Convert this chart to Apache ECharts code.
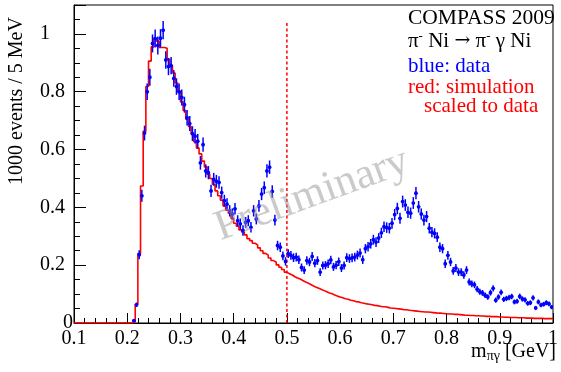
<!DOCTYPE html>
<html>
<head>
<meta charset="utf-8">
<script src="https://cdn.jsdelivr.net/npm/echarts@6/dist/echarts.min.js"></script>
<style>
  html, body { margin: 0; padding: 0; background: #fff; }
  #chart { width: 561px; height: 372px; }
</style>
</head>
<body>
<div id="chart"></div>
<script>
// Histogram binning: 5 MeV bins from 0.1 to 1.0 GeV
const BIN_START = 0.1;
const BIN_WIDTH = 0.005;

// Simulated spectrum (scaled to data), one value per bin, in 1000 events / 5 MeV
const simulation = [
  0, 0, 0, 0, 0, 0, 0, 0, 0, 0,
  0, 0, 0, 0, 0, 0, 0, 0, 0, 0,
  0, 0, 0.004, 0.065, 0.24, 0.474, 0.663, 0.818, 0.906, 0.955,
  0.985, 0.975, 0.953, 0.953, 0.95, 0.912, 0.89, 0.865, 0.83, 0.80,
  0.765, 0.735, 0.705, 0.68, 0.655, 0.627, 0.605, 0.585, 0.56, 0.54,
  0.515, 0.50, 0.48, 0.457, 0.44, 0.425, 0.405, 0.39, 0.38, 0.362,
  0.345, 0.335, 0.322, 0.315, 0.305, 0.292, 0.285, 0.276, 0.27, 0.26,
  0.25, 0.241, 0.235, 0.225, 0.216, 0.21, 0.201, 0.193, 0.185, 0.176,
  0.17, 0.166, 0.16, 0.156, 0.152, 0.147, 0.142, 0.138, 0.133, 0.128,
  0.124, 0.12, 0.116, 0.112, 0.108, 0.104, 0.101, 0.097, 0.093, 0.09,
  0.087, 0.084, 0.082, 0.079, 0.077, 0.074, 0.073, 0.070, 0.068, 0.066,
  0.065, 0.063, 0.061, 0.060, 0.058, 0.056, 0.056, 0.054, 0.052, 0.051,
  0.050, 0.049, 0.048, 0.046, 0.046, 0.044, 0.043, 0.042, 0.041, 0.040,
  0.039, 0.038, 0.038, 0.037, 0.036, 0.035, 0.034, 0.034, 0.033, 0.032,
  0.031, 0.031, 0.030, 0.030, 0.029, 0.028, 0.027, 0.027, 0.026, 0.026,
  0.025, 0.025, 0.024, 0.024, 0.023, 0.023, 0.022, 0.022, 0.022, 0.021,
  0.021, 0.020, 0.020, 0.019, 0.019, 0.019, 0.018, 0.018, 0.018, 0.017,
  0.017, 0.017, 0.016, 0.016, 0.016, 0.016, 0.015, 0.015, 0.015, 0.015
];

// Measured spectrum, same binning (null where the bin is empty)
const measured = [
  null, null, null, null, null, null, null, null, null, null,
  null, null, null, null, null, null, null, null, null, null,
  null, null, 0.008, 0.063, 0.236, 0.44, 0.657, 0.80, 0.85, 0.967,
  0.984, 0.96, 0.985, 1.013, 0.91, 0.887, 0.89, 0.846, 0.818, 0.80,
  0.78, 0.755, 0.71, 0.69, 0.655, 0.646, 0.629, 0.554, 0.617, 0.526,
  0.52, 0.457, 0.497, 0.49, 0.486, 0.451, 0.423, 0.411, 0.388, 0.377,
  0.395, 0.354, 0.343, 0.32, 0.348, 0.354, 0.331, 0.388, 0.36, 0.405,
  0.446, 0.468, 0.526, 0.539, 0.455, 0.356, 0.268, 0.262, 0.232, 0.213,
  0.24, 0.234, 0.226, 0.228, 0.219, 0.192, 0.183, 0.216, 0.211, 0.23,
  0.207, 0.216, 0.176, 0.199, 0.2, 0.205, 0.218, 0.194, 0.2, 0.212,
  0.19, 0.199, 0.226, 0.223, 0.225, 0.228, 0.235, 0.242, 0.219, 0.257,
  0.264, 0.274, 0.288, 0.28, 0.294, 0.312, 0.333, 0.33, 0.328, 0.345,
  0.375, 0.396, 0.362, 0.42, 0.408, 0.383, 0.38, 0.415, 0.449, 0.402,
  0.377, 0.356, 0.368, 0.328, 0.314, 0.31, 0.297, 0.262, 0.257, 0.205,
  0.234, 0.211, 0.18, 0.19, 0.176, 0.176, 0.166, 0.183, 0.142, 0.135,
  0.132, 0.117, 0.108, 0.104, 0.096, 0.09, 0.105, 0.12, 0.079, 0.09,
  0.106, 0.082, 0.085, 0.088, 0.092, 0.073, 0.075, 0.092, 0.083, 0.08,
  0.068, 0.07, 0.087, 0.052, 0.073, 0.062, 0.065, 0.07, 0.066, 0.055
];

// Mass cut marker
const cutMass = 0.5;
const cutTop = 1.04;

const xTickLabels = ['0.1', '0.2', '0.3', '0.4', '0.5', '0.6', '0.7', '0.8', '0.9', '1'];
const yTickLabels = ['0', '0.2', '0.4', '0.6', '0.8', '1'];

const FONT = '"Liberation Serif", "Times New Roman", serif';

// Step outline of the simulated histogram: both edges of every bin
const simLine = [];
simulation.forEach((v, i) => {
  const lo = BIN_START + i * BIN_WIDTH;
  simLine.push([lo, v], [lo + BIN_WIDTH, v]);
});

// Data points at bin centres with Poisson errors (counts = value x 1000)
const dataPoints = [];
measured.forEach((v, i) => {
  if (v === null) return;
  const x = BIN_START + (i + 0.5) * BIN_WIDTH;
  dataPoints.push([x, v, Math.sqrt(v / 1000)]);
});

function xLabel(v) {
  const k = Math.round((v - 0.1) / 0.1);
  return Math.abs(v - (0.1 + 0.1 * k)) < 1e-6 ? (xTickLabels[k] || '') : '';
}
function yLabel(v) {
  const k = Math.round(v / 0.2);
  if (Math.abs(v - 0.2 * k) > 1e-6) return '';
  const t = yTickLabels[k];
  if (t === undefined) return '';
  if (t === '0') return '{z|0}';
  if (t === '1') return '{o|1}';
  return t;
}

const chart = echarts.init(document.getElementById('chart'), null, { renderer: 'canvas' });

const axisCommon = {
  type: 'value',
  splitLine: { show: false },
  axisLine: { show: true, onZero: false, lineStyle: { color: '#000', width: 1 } },
};

chart.setOption({
  animation: false,
  backgroundColor: '#fff',
  grid: {
    left: 74, right: 5, top: 5, bottom: 49,
    show: true, borderColor: '#000', borderWidth: 1, backgroundColor: '#fff'
  },
  xAxis: [
    Object.assign({}, axisCommon, {
      min: 0.1, max: 1.0, interval: 0.1, position: 'bottom',
      axisTick: { inside: true, length: 10, lineStyle: { color: '#000', width: 1 } },
      axisLabel: { color: '#000', fontFamily: FONT, fontSize: 20, margin: 6, formatter: xLabel,
                   showMinLabel: true, showMaxLabel: true }
    }),
    Object.assign({}, axisCommon, {
      min: 0.1, max: 1.0, interval: 0.02, position: 'bottom',
      axisLine: { show: false },
      axisTick: { inside: true, length: 5, lineStyle: { color: '#000', width: 1 } },
      axisLabel: { show: false }
    })
  ],
  yAxis: [
    Object.assign({}, axisCommon, {
      min: 0, max: 1.1, interval: 0.2, position: 'left',
      axisTick: { inside: true, length: 12, lineStyle: { color: '#000', width: 1 } },
      axisLabel: {
        color: '#000', fontFamily: FONT, fontSize: 20, margin: 34, align: 'left',
        formatter: yLabel,
        rich: {
          z: { fontFamily: FONT, fontSize: 20, color: '#000', padding: [0, 0, 0, 23] },
          o: { fontFamily: FONT, fontSize: 20, color: '#000', padding: [0, 0, 0, 0] }
        }
      }
    }),
    Object.assign({}, axisCommon, {
      min: 0, max: 1.1, interval: 0.05, position: 'left',
      axisLine: { show: false },
      axisTick: { inside: true, length: 6, lineStyle: { color: '#000', width: 1 } },
      axisLabel: { show: false }
    })
  ],
  series: [
    {
      name: 'simulation',
      type: 'line',
      xAxisIndex: 0, yAxisIndex: 0,
      data: simLine,
      showSymbol: false, symbol: 'none',
      lineStyle: { color: '#ff0000', width: 1.6 },
      clip: true, z: 2
    },
    {
      name: 'cut',
      type: 'line',
      xAxisIndex: 0, yAxisIndex: 0,
      data: [[cutMass, 0], [cutMass, cutTop]],
      showSymbol: false, symbol: 'none',
      lineStyle: { color: '#ff0000', width: 1.5, type: [3, 2.5] },
      z: 3
    },
    {
      name: 'data',
      type: 'custom',
      xAxisIndex: 0, yAxisIndex: 0,
      data: dataPoints,
      encode: { x: 0, y: 1 },
      clip: true, z: 4,
      renderItem: function (params, api) {
        const x = api.value(0), y = api.value(1), e = api.value(2);
        const c = api.coord([x, y]);
        const hi = api.coord([x, y + e]);
        const lo = api.coord([x, y - e]);
        const l = api.coord([x - BIN_WIDTH / 2, y]);
        const r = api.coord([x + BIN_WIDTH / 2, y]);
        return {
          type: 'group',
          children: [
            { type: 'line', shape: { x1: c[0], y1: hi[1], x2: c[0], y2: lo[1] },
              style: { stroke: '#0000ff', lineWidth: 1.5 } },
            { type: 'line', shape: { x1: l[0], y1: c[1], x2: r[0], y2: c[1] },
              style: { stroke: '#0000ff', lineWidth: 1.5 } },
            { type: 'circle', shape: { cx: c[0], cy: c[1], r: 1.9 },
              style: { fill: '#0000ff' } }
          ]
        };
      }
    }
  ],
  graphic: [
    {
      type: 'text', x: 312, y: 195, rotation: 20 * Math.PI / 180, z: 100, silent: true,
      style: { text: 'Preliminary', fontFamily: FONT, fontSize: 43,
               fill: 'rgba(150,150,150,0.5)', align: 'center', verticalAlign: 'middle' }
    },
    {
      type: 'text', x: 17, y: 101, rotation: Math.PI / 2, z: 100,
      style: { text: '1000 events / 5 MeV', fontFamily: FONT, fontSize: 20,
               fill: '#000', align: 'center', verticalAlign: 'middle' }
    },
    {
      type: 'text', x: 556, y: 352, z: 100,
      style: {
        text: '{a|m}{s|πγ}{a| [GeV]}', align: 'right', verticalAlign: 'middle',
        rich: {
          a: { fontFamily: FONT, fontSize: 20, fill: '#000', lineHeight: 22 },
          s: { fontFamily: FONT, fontSize: 14, fill: '#000', lineHeight: 20, verticalAlign: 'bottom' }
        }
      }
    },
    {
      type: 'text', x: 408, y: 18, z: 100,
      style: { text: 'COMPASS 2009', fontFamily: FONT, fontSize: 21.5, fill: '#000',
               align: 'left', verticalAlign: 'middle' }
    },
    {
      type: 'text', x: 408, y: 41, z: 100,
      style: {
        text: '{a|π}{s|-}{a| Ni }{r|→}{a| π}{s|-}{a| γ Ni}', align: 'left', verticalAlign: 'middle',
        rich: {
          a: { fontFamily: FONT, fontSize: 21, fill: '#000', lineHeight: 22 },
          r: { fontFamily: '"DejaVu Serif", serif', fontSize: 19, fill: '#000', lineHeight: 22 },
          s: { fontFamily: FONT, fontSize: 13, fill: '#000', lineHeight: 14, verticalAlign: 'top' }
        }
      }
    },
    {
      type: 'text', x: 408, y: 66, z: 100,
      style: { text: 'blue: data', fontFamily: FONT, fontSize: 21, fill: '#0000ff',
               align: 'left', verticalAlign: 'middle' }
    },
    {
      type: 'text', x: 408, y: 87, z: 100,
      style: { text: 'red: simulation', fontFamily: FONT, fontSize: 21, fill: '#ff0000',
               align: 'left', verticalAlign: 'middle' }
    },
    {
      type: 'text', x: 424, y: 106, z: 100,
      style: { text: 'scaled to data', fontFamily: FONT, fontSize: 21, fill: '#ff0000',
               align: 'left', verticalAlign: 'middle' }
    }
  ]
});
</script>
</body>
</html>
